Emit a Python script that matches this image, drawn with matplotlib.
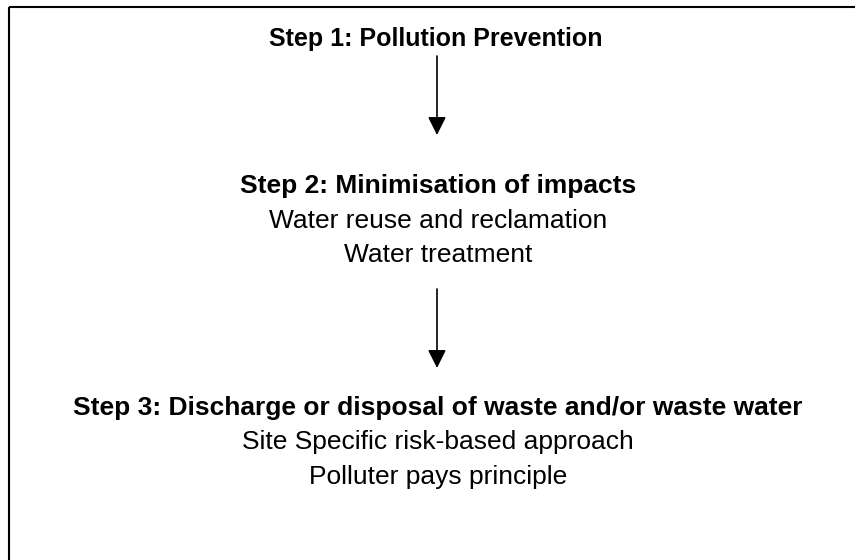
import matplotlib
matplotlib.use("Agg")
from matplotlib import pyplot as plt

plt.rcParams['font.family'] = ['Liberation Sans', 'DejaVu Sans']

# 各ステップの見出しと説明
step_titles = [
    "Step 1: Pollution Prevention",
    "Step 2: Minimisation of impacts",
    "Step 3: Discharge or disposal of waste and/or waste water",
]
step_details = [
    [],
    ["Water reuse and reclamation", "Water treatment"],
    ["Site Specific risk-based approach", "Polluter pays principle"],
]

fig = plt.figure(figsize=(8.55, 5.6), dpi=100)
ax = fig.add_axes([0, 0, 1, 1])
ax.set_xlim(0, 855)
ax.set_ylim(560, 0)
ax.axis("off")

# 枠線（上と左のみ見える）
ax.plot([9, 855], [6.5, 6.5], color="black", lw=1.5, solid_capstyle="butt")
ax.plot([9, 9], [6.5, 560], color="black", lw=1.5, solid_capstyle="butt")

# ベースライン位置（ピクセル）
title_y = [46, 193, 415]
title_x = [435.5, 438, 438]
title_size = [18, 19, 19]
line_gap = 34.5

for title, details, y, x, fs in zip(step_titles, step_details, title_y, title_x, title_size):
    ax.text(x, y, title, ha="center", va="baseline", fontsize=fs, fontweight="bold")
    for i, d in enumerate(details):
        ax.text(x, y + line_gap * (i + 1), d, ha="center", va="baseline", fontsize=19)

# 矢印
arrows = [(56, 135), (289, 368)]
for y0, y1 in arrows:
    ax.annotate("", xy=(437, y1), xytext=(437, y0),
                arrowprops=dict(arrowstyle="-|>,head_length=1.1,head_width=0.55",
                                color="black", lw=1.2, shrinkA=0, shrinkB=0))

fig.savefig("out.png", dpi=100)
